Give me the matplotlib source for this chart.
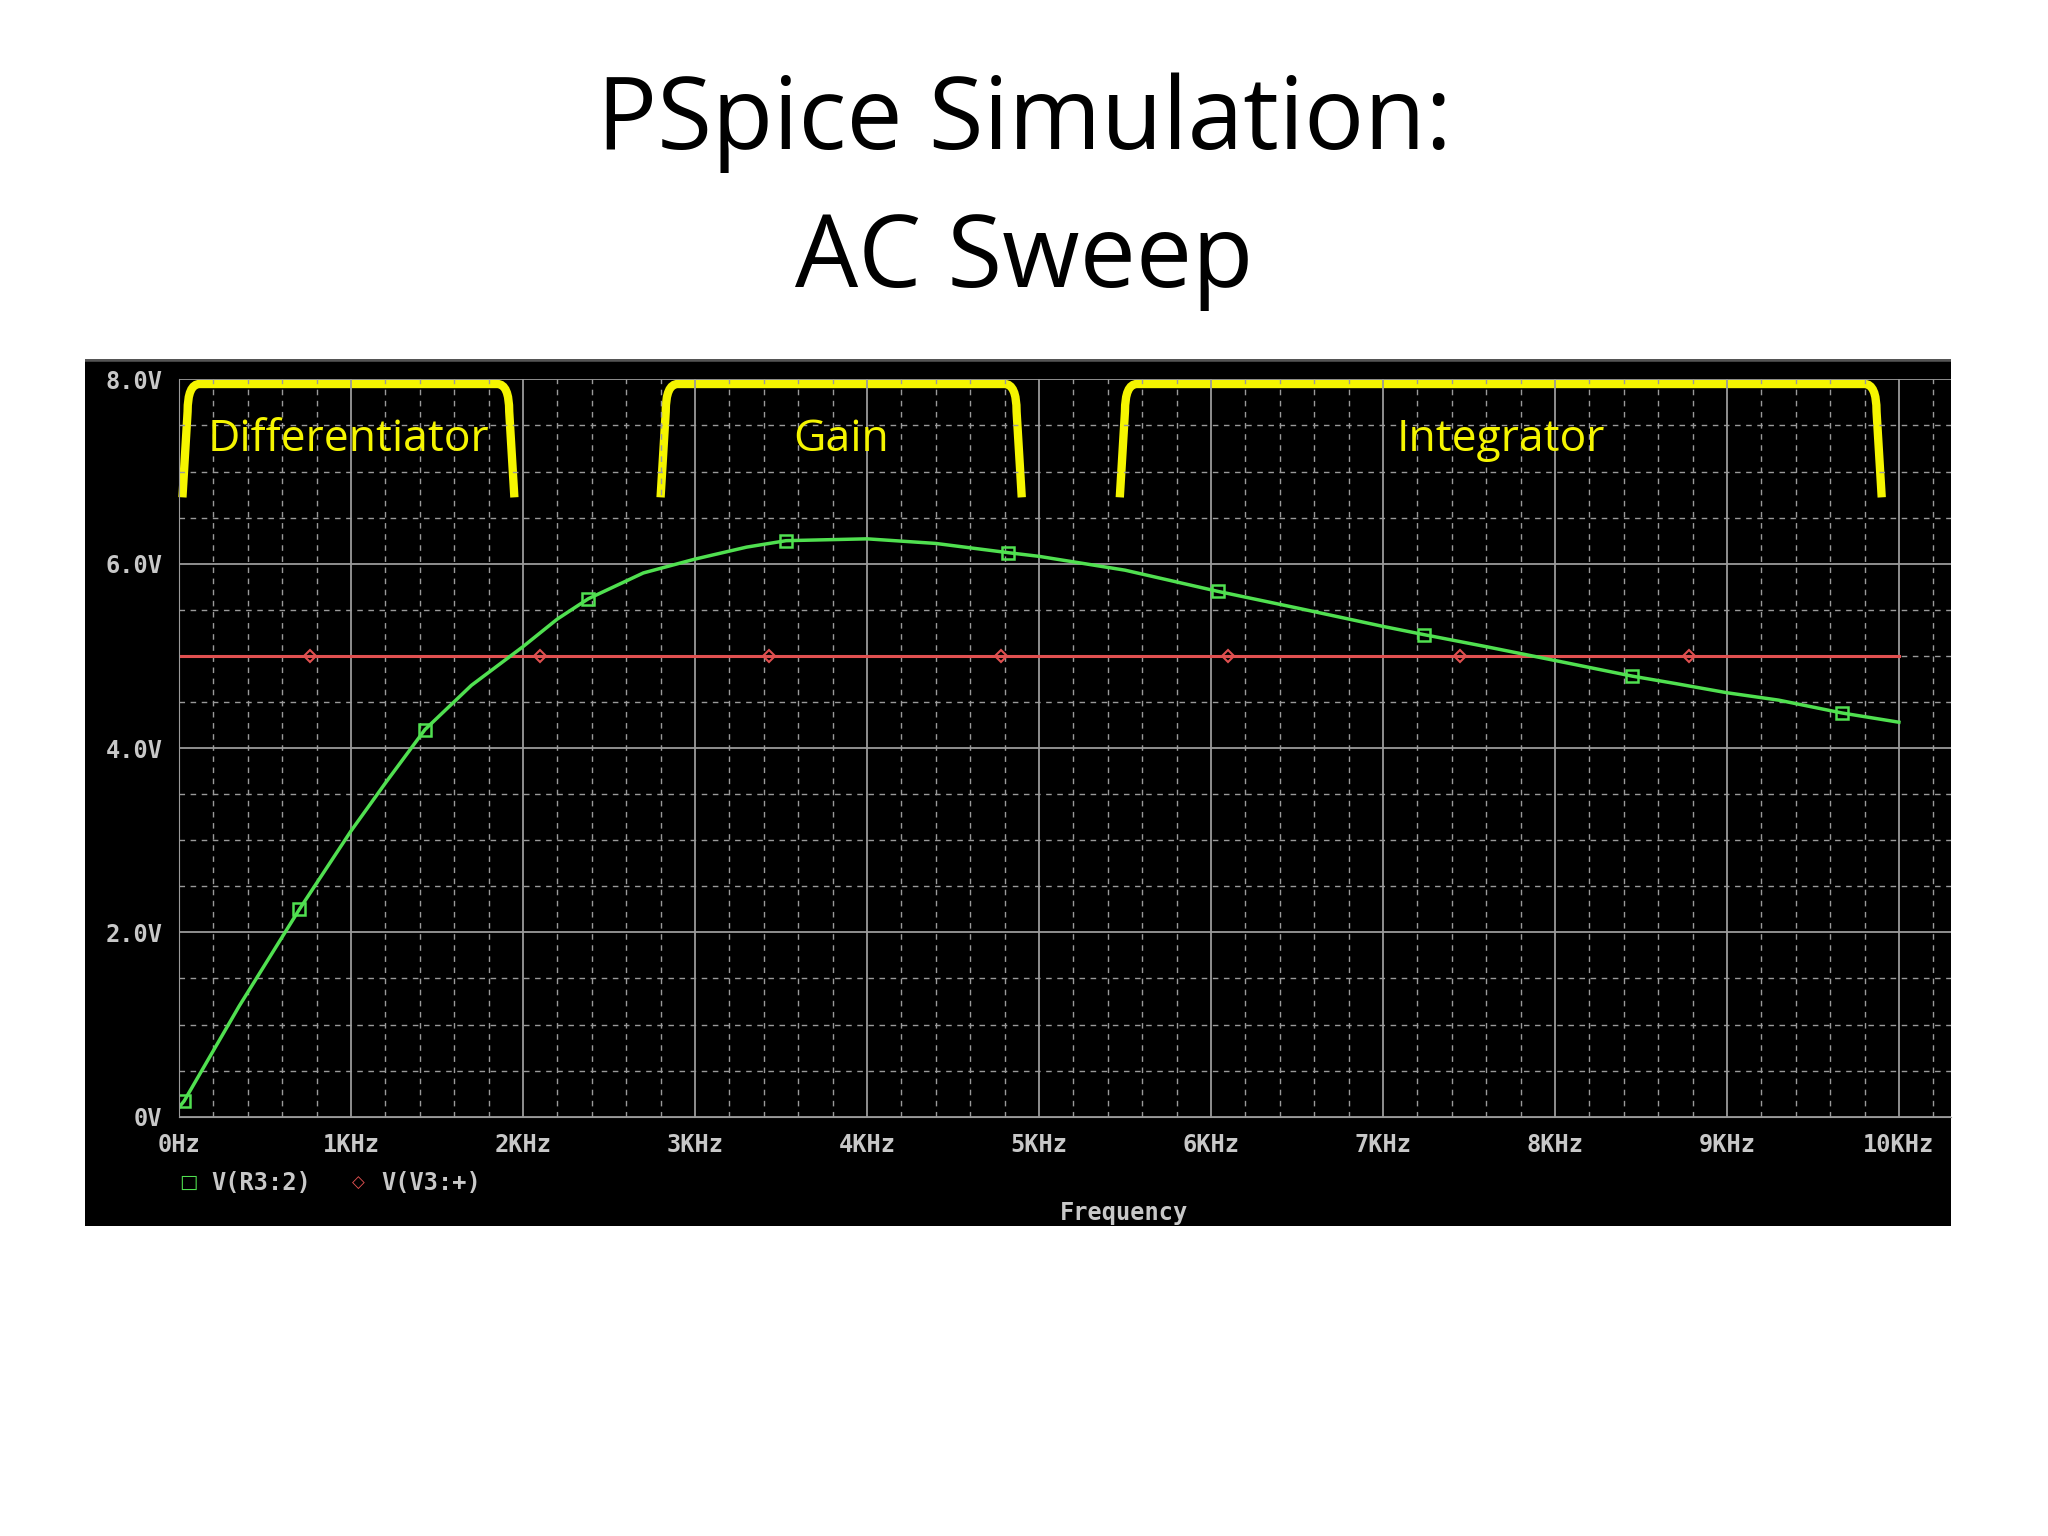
import matplotlib.pyplot as plt
from matplotlib.ticker import MultipleLocator
from matplotlib.path import Path
from matplotlib.patches import PathPatch

# data (kHz, V)
freq_khz = [0.0, 0.03, 0.35, 0.5, 0.7, 1.0, 1.2, 1.43, 1.7, 2.0, 2.2, 2.38, 2.7, 3.0, 3.3, 3.53, 4.0, 4.4,
            4.82, 5.0, 5.5, 6.04, 6.5, 7.0, 7.24, 7.6, 8.0, 8.45, 8.7, 9.0, 9.3, 9.67, 10.0]
v_r3 = [0.1, 0.17, 1.2, 1.65, 2.25, 3.1, 3.62, 4.2, 4.68, 5.1, 5.4, 5.62, 5.9, 6.05, 6.18, 6.25, 6.27, 6.22,
        6.12, 6.08, 5.93, 5.7, 5.52, 5.32, 5.23, 5.1, 4.95, 4.78, 4.7, 4.6, 4.52, 4.38, 4.28]
green_marks_x = [0.03, 0.7, 1.43, 2.38, 3.53, 4.82, 6.04, 7.24, 8.45, 9.67]
v3_freq = [0.0, 10.0]
v3_val = [5.0, 5.0]
v3_marks = [0.76, 2.1, 3.43, 4.78, 6.1, 7.45, 8.78]
regions = ["Differentiator", "Gain", "Integrator"]
region_x = [(0.05, 1.92), (2.83, 4.87), (5.5, 9.87)]
xticks = list(range(11))
xlabels = ["0Hz"] + [f"{k}KHz" for k in range(1, 11)]
yticks = [0, 2, 4, 6, 8]
ylabels = ["0V", "2.0V", "4.0V", "6.0V", "8.0V"]

fig = plt.figure(figsize=(20.48, 15.36), dpi=100)
fig.text(0.5, 0.92, "PSpice Simulation:", ha='center', va='center', fontsize=72, family='Open Sans')
fig.text(0.5, 0.83, "AC Sweep", ha='center', va='center', fontsize=72, family='Open Sans')

# black background panel
bg = fig.add_axes([0.0415, 0.202, 0.911, 0.564])
bg.set_facecolor('black')
bg.set_xticks([]); bg.set_yticks([])
for s in bg.spines.values():
    s.set_visible(False)
bg.axhline(1.0, color='#555555', lw=4)

ax = fig.add_axes([0.0874, 0.273, 0.865, 0.480])
ax.set_facecolor('black')
ax.set_xlim(0, 10.3)
ax.set_ylim(0, 8)
ax.xaxis.set_major_locator(MultipleLocator(1))
ax.xaxis.set_minor_locator(MultipleLocator(0.2))
ax.yaxis.set_major_locator(MultipleLocator(2))
ax.yaxis.set_minor_locator(MultipleLocator(0.5))
ax.grid(which='major', color='#9a9a9a', lw=1.3)
ax.grid(which='minor', color='#9a9a9a', lw=1.0, ls=(0, (4, 4)))
ax.set_xticks(xticks)
ax.set_xticklabels(xlabels)
ax.set_yticks(yticks)
ax.set_yticklabels(ylabels)
ax.tick_params(colors='#c8c8c8', labelsize=17, length=0, pad=12)
for lab in ax.get_xticklabels() + ax.get_yticklabels():
    lab.set_family('DejaVu Sans Mono')
    lab.set_weight('bold')
for s in ax.spines.values():
    s.set_visible(False)
ax.spines['left'].set_visible(True)
ax.spines['bottom'].set_visible(True)
ax.spines['left'].set_color('#9a9a9a')
ax.spines['bottom'].set_color('#9a9a9a')

ax.plot(v3_freq, v3_val, color='#e05050', lw=2.2)
ax.plot(v3_marks, [5.0] * len(v3_marks), ls='none', marker='D', ms=6, mfc='none', mec='#e05050', mew=1.5)
ax.plot(freq_khz, v_r3, color='#50e050', lw=2.5)
ax.plot(green_marks_x, [v_r3[freq_khz.index(x)] for x in green_marks_x], ls='none',
        marker='s', ms=8, mfc='none', mec='#50e050', mew=1.8)

# yellow brackets
for name, (x0, x1) in zip(regions, region_x):
    top, bot, r = 7.95, 6.72, 0.07
    verts = [(x0 - 0.03, bot), (x0, top - 0.3), (x0, top), (x0 + r, top),
             (x1 - r, top), (x1, top), (x1, top - 0.3), (x1 + 0.03, bot)]
    codes = [Path.MOVETO, Path.LINETO, Path.CURVE3, Path.CURVE3,
             Path.LINETO, Path.CURVE3, Path.CURVE3, Path.LINETO]
    ax.add_patch(PathPatch(Path(verts, codes), fill=False, ec='#f5f500', lw=6, clip_on=False))
    ax.text((x0 + x1) / 2, 7.35, name, color='#f5f500', fontsize=32, ha='center', va='center',
            family='Open Sans')

fig.text(0.092, 0.230, "\u25a1", color='#50e050', fontsize=14, ha='center', va='center')
fig.text(0.103, 0.230, "V(R3:2)", color='#c8c8c8', fontsize=17, family='DejaVu Sans Mono',
         weight='bold', va='center')
fig.text(0.175, 0.230, "\u25c7", color='#e05050', fontsize=12, ha='center', va='center')
fig.text(0.186, 0.230, "V(V3:+)", color='#c8c8c8', fontsize=17, family='DejaVu Sans Mono',
         weight='bold', va='center')
fig.text(0.549, 0.210, "Frequency", color='#c8c8c8', fontsize=17, family='DejaVu Sans Mono',
         weight='bold', ha='center', va='center')

fig.savefig("out.png", dpi=100)
